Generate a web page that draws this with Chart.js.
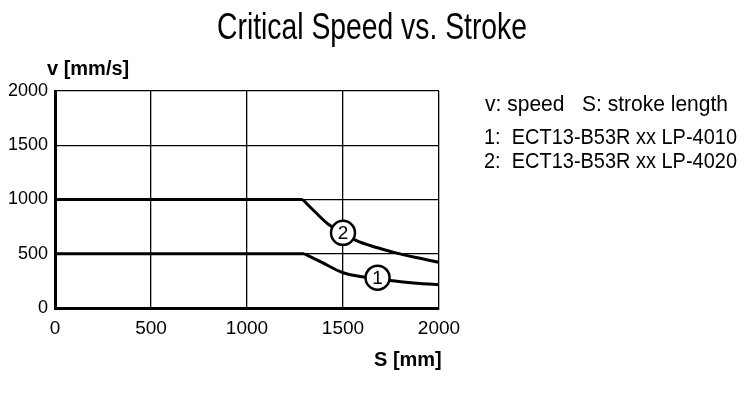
<!DOCTYPE html>
<html>
<head>
<meta charset="utf-8">
<script src="https://cdn.jsdelivr.net/npm/chart.js@4"></script>
<style>
html, body { margin: 0; padding: 0; background: #fff; }
#wrap { width: 750px; height: 399px; position: relative; }
</style>
</head>
<body>
<div id="wrap"><canvas id="myChart"></canvas></div>
<script>
// curve 1: ECT13-B53R xx LP-4010
const stroke1 = [0, 1298, 1390, 1500, 1600, 1700, 1800, 1900, 2000];
const speed1 = [500, 500, 420, 325, 288, 262, 242, 226, 215];
// curve 2: ECT13-B53R xx LP-4020
const stroke2 = [0, 1290, 1355, 1425, 1500, 1570, 1680, 1770, 1880, 2000];
const speed2 = [1000, 1000, 885, 770, 692, 620, 555, 510, 465, 422];
// circled labels on the curves
const markNames = ['1', '2'];
const markStroke = [1680, 1500];
const markSpeed = [279, 693];
const xTicks = [0, 500, 1000, 1500, 2000];
const yTicks = [0, 500, 1000, 1500, 2000];
const noteLines = ['v: speed   S: stroke length', '1:  ECT13-B53R xx LP-4010', '2:  ECT13-B53R xx LP-4020'];

const toPoints = (xs, ys) => xs.map((x, i) => ({x: x, y: ys[i]}));

const sans = '"Liberation Sans", Arial, sans-serif';

// draw text squeezed to a given width (condensed look)
const narrowText = (c, text, x, y, size, width) => {
  c.font = size + 'px ' + sans;
  const w = c.measureText(text).width;
  c.save();
  c.translate(x, y);
  c.scale(width / w, 1);
  c.fillText(text, 0, 0);
  c.restore();
};

const extras = {
  id: 'extras',
  afterDraw(chart) {
    const c = chart.ctx;
    const xs = chart.scales.x, ys = chart.scales.y;
    c.save();
    c.fillStyle = '#000';
    c.textAlign = 'left';
    c.textBaseline = 'alphabetic';
    // title
    narrowText(c, 'Critical Speed vs. Stroke', 217, 39, 36, 310);
    // notes
    narrowText(c, noteLines[0], 485, 111, 22, 243);
    narrowText(c, noteLines[1], 484, 144, 22, 253);
    narrowText(c, noteLines[2], 484, 168, 22, 253);
    // axis titles
    c.font = 'bold 20px ' + sans;
    c.textBaseline = 'middle';
    c.fillText('v [mm/s]', 47, 69);
    c.fillText('S [mm]', 374, 360);
    // circle marks
    c.lineWidth = 2.5;
    c.font = '19px ' + sans;
    c.textAlign = 'center';
    markNames.forEach((name, i) => {
      const px = xs.getPixelForValue(markStroke[i]);
      const py = ys.getPixelForValue(markSpeed[i]);
      c.beginPath();
      c.arc(px, py, 12, 0, Math.PI * 2);
      c.fillStyle = '#fff';
      c.fill();
      c.strokeStyle = '#000';
      c.stroke();
      c.fillStyle = '#000';
      c.fillText(name, px, py + 1);
    });
    c.restore();
  }
};

// flat part as a straight line, falling part as a smooth curve
const flatPart = (xs, ys) => ({
  data: toPoints(xs.slice(0, 2), ys.slice(0, 2)),
  borderColor: '#000', borderWidth: 3, pointRadius: 0
});
const curvePart = (xs, ys) => ({
  data: toPoints(xs.slice(1), ys.slice(1)),
  borderColor: '#000', borderWidth: 3, pointRadius: 0,
  cubicInterpolationMode: 'monotone'
});

const ctx = document.getElementById('myChart').getContext('2d');
const myChart = new Chart(ctx, {
  type: 'line',
  data: {
    datasets: [
      flatPart(stroke1, speed1), curvePart(stroke1, speed1),
      flatPart(stroke2, speed2), curvePart(stroke2, speed2)
    ]
  },
  options: {
    responsive: true,
    maintainAspectRatio: false,
    animation: false,
    layout: { padding: { left: 0, top: 91, right: 311, bottom: 50 } },
    plugins: { legend: { display: false }, tooltip: { enabled: false } },
    scales: {
      x: {
        type: 'linear', min: 0, max: 2000,
        afterBuildTicks: (s) => { s.ticks = xTicks.map(v => ({value: v})); },
        afterFit: (s) => { s.height = 41; },
        grid: { color: '#000', lineWidth: 1.3, drawTicks: false },
        border: { color: '#000', width: 3 },
        ticks: { color: '#000', padding: 9, font: { family: 'Liberation Sans', size: 19 },
          callback: (v) => String(v) }
      },
      y: {
        type: 'linear', min: 0, max: 2000,
        afterBuildTicks: (s) => { s.ticks = yTicks.map(v => ({value: v})); },
        afterFit: (s) => { s.width = 55; },
        grid: { color: '#000', lineWidth: 1.3, drawTicks: false },
        border: { color: '#000', width: 3 },
        ticks: { color: '#000', padding: 7, font: { family: 'Liberation Sans', size: 18 },
          callback: (v) => String(v) }
      }
    }
  },
  plugins: [extras]
});
</script>
</body>
</html>
